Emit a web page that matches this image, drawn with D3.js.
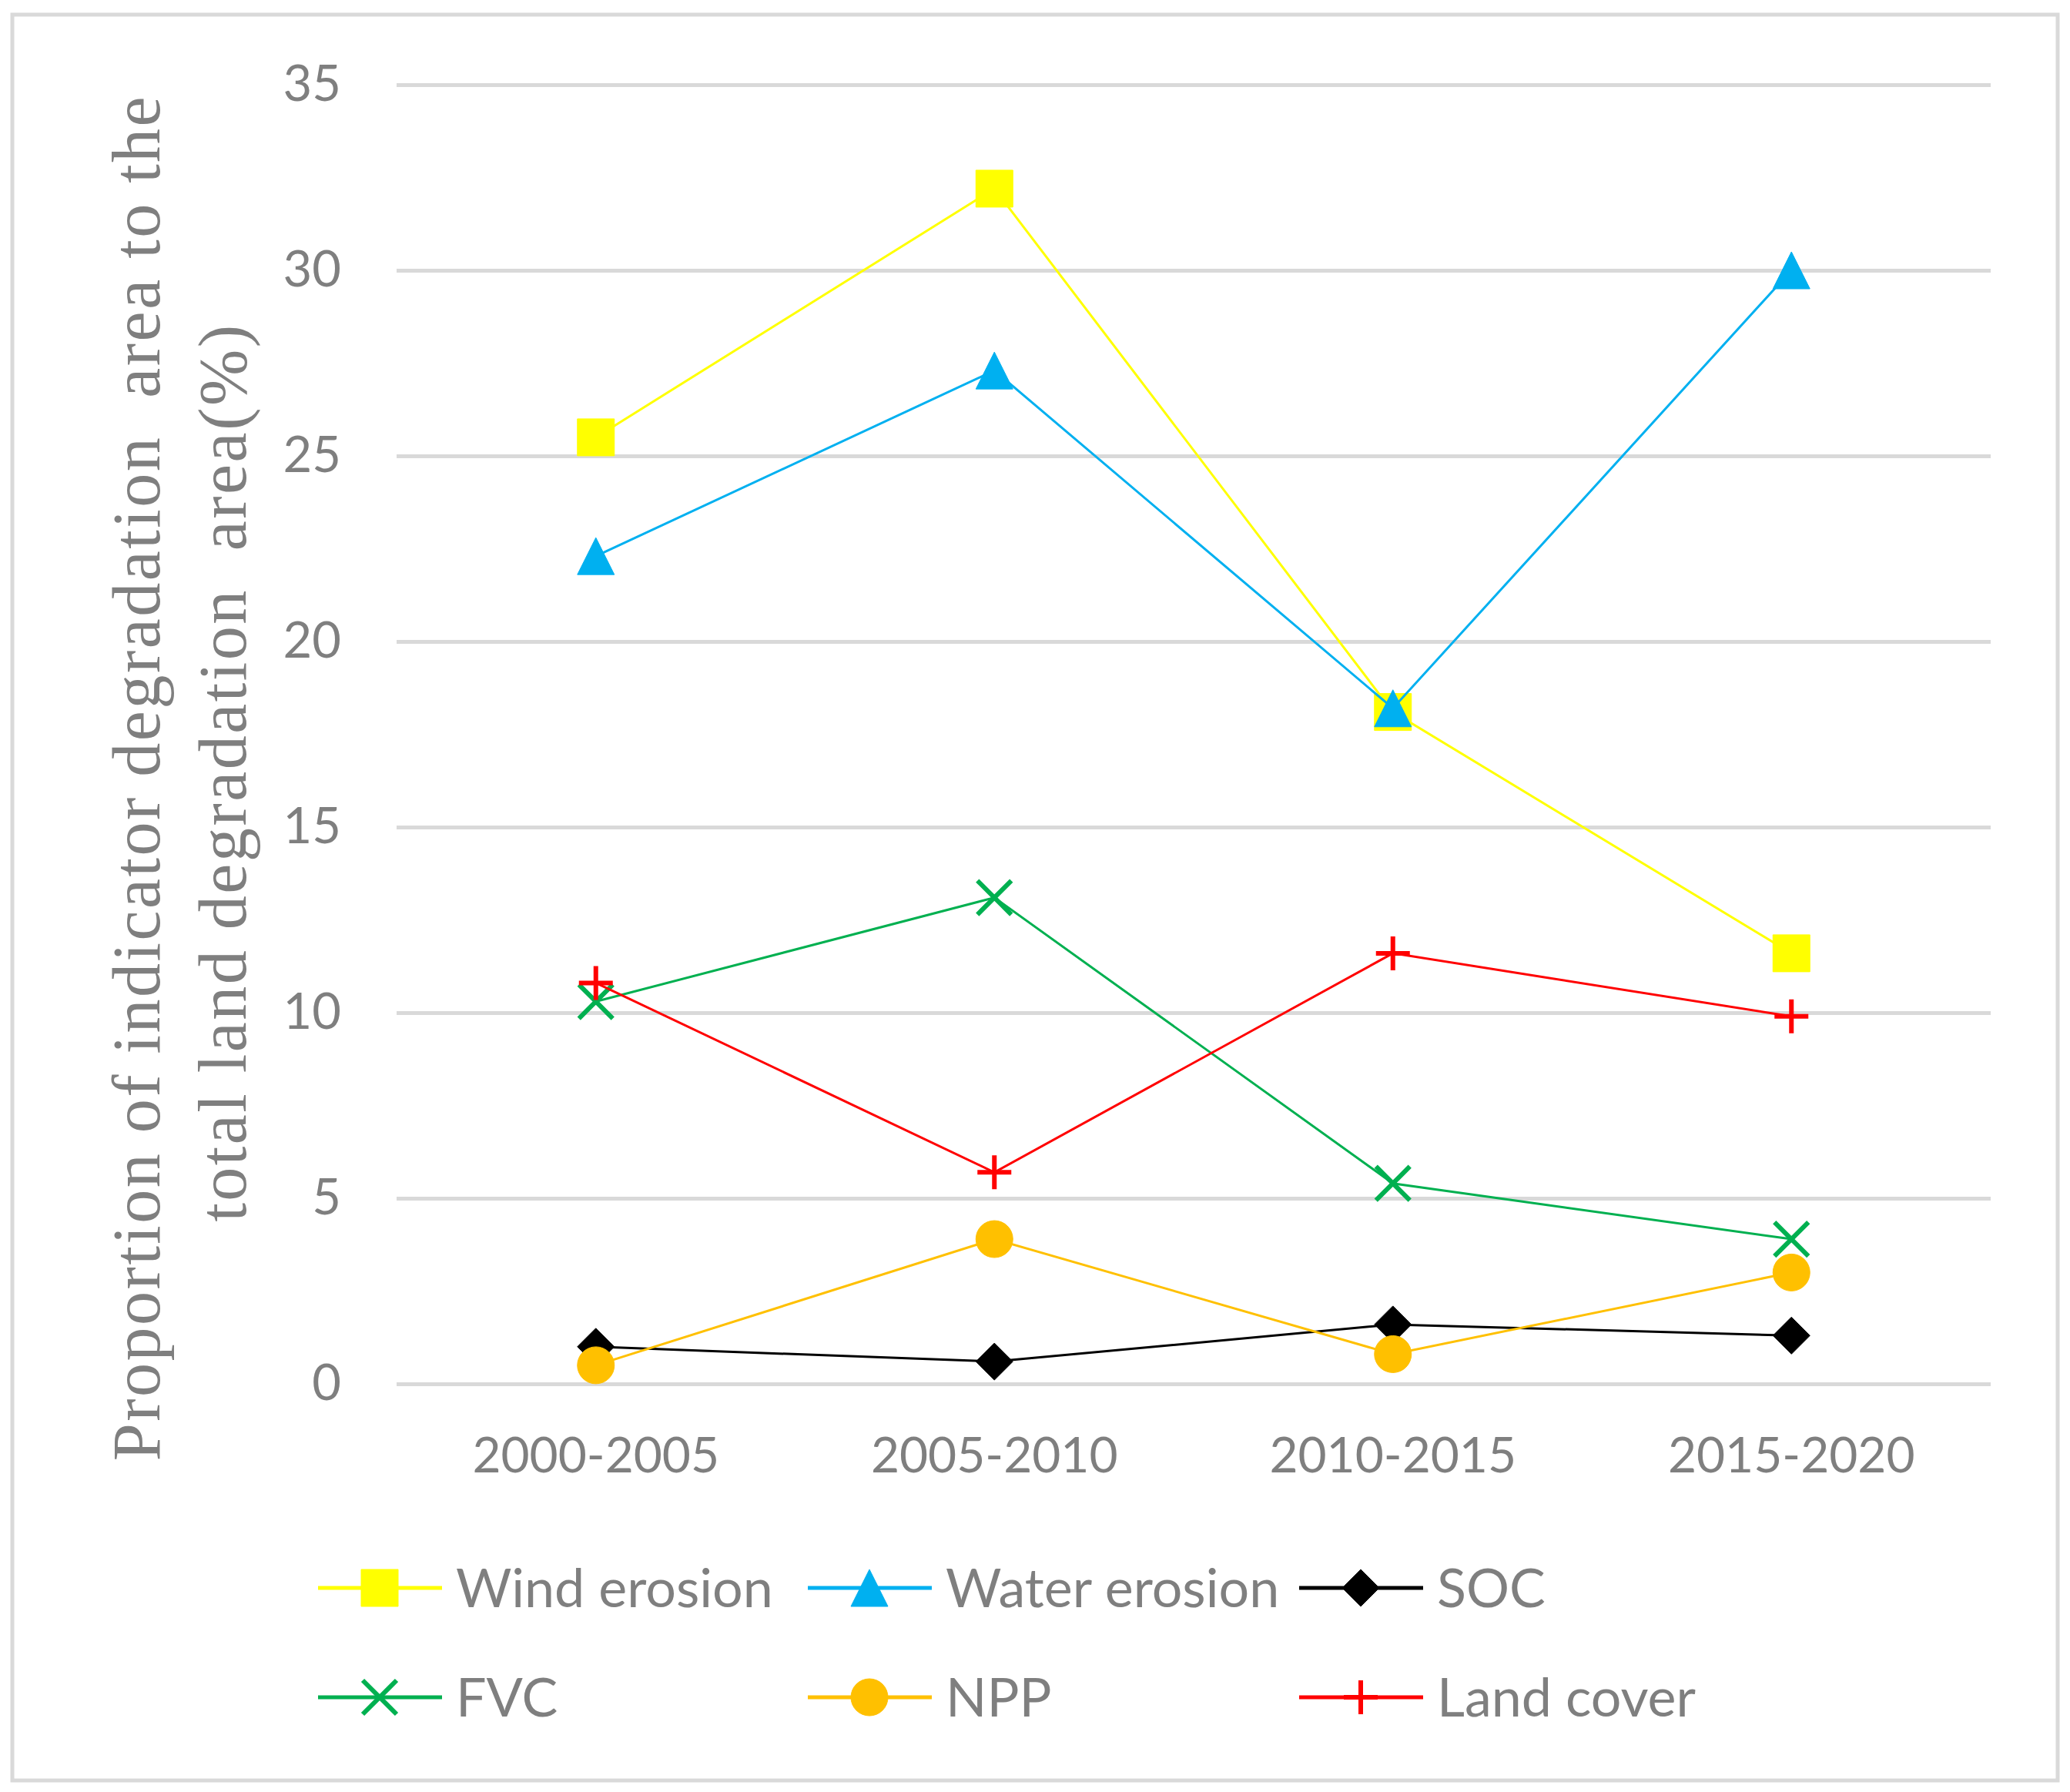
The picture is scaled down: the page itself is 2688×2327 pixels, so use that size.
<!DOCTYPE html>
<html>
<head>
<meta charset="utf-8">
<script src="https://cdn.jsdelivr.net/npm/d3@7"></script>
<style>
  body { margin: 0; background: #fff; }
  .tick text { fill: #7f7f7f; font-family: Lato, "Open Sans", sans-serif; }
</style>
</head>
<body>
<div id="chart"></div>
<script>
const svgWidth = 2688;
const svgHeight = 2327;
const margin = {top: 110, right: 103, bottom: 530, left: 515};
const width = svgWidth - margin.left - margin.right;
const height = svgHeight - margin.top - margin.bottom;

// periods on the x axis
const periods = ["2000-2005", "2005-2010", "2010-2015", "2015-2020"];
const yTicks = [0, 5, 10, 15, 20, 25, 30, 35];

// values (%)
const windErosion  = [25.5, 32.2, 18.1, 11.6];
const waterErosion = [22.3, 27.3, 18.2, 30.0];
const soc          = [1.0, 0.6, 1.6, 1.3];
const fvc          = [10.3, 13.1, 5.4, 3.9];
const npp          = [0.5, 3.9, 0.8, 3.0];
const landCover    = [10.8, 5.7, 11.6, 9.9];

const seriesNames  = ["Wind erosion", "Water erosion", "SOC", "FVC", "NPP", "Land cover"];
const seriesColors = ["#ffff00", "#00b0f0", "#000000", "#00b050", "#ffc000", "#ff0000"];
const seriesMarks  = ["square", "triangle", "diamond", "cross", "circle", "plus"];
const seriesValues = [windErosion, waterErosion, soc, fvc, npp, landCover];

document.addEventListener("DOMContentLoaded", function(event){
    drawChart();
});

// marker path centred on 0,0
function markerPath(type){
    const r = 24;
    if (type == "square") return "M"+(-r)+","+(-r)+"H"+r+"V"+r+"H"+(-r)+"Z";
    if (type == "triangle") return "M0,"+(-r)+"L"+r+","+r+"H"+(-r)+"Z";
    if (type == "diamond") return "M0,"+(-r)+"L"+r+",0L0,"+r+"L"+(-r)+",0Z";
    if (type == "circle") return d3.symbol().type(d3.symbolCircle).size(Math.PI*r*r)();
    const c = 22;
    if (type == "cross") return "M"+(-c)+","+(-c)+"L"+c+","+c+"M"+(-c)+","+c+"L"+c+","+(-c);
    return "M0,"+(-c)+"V"+c+"M"+(-c)+",0H"+c; // plus
}

function drawMarker(g, type, color){
    const filled = type != "cross" && type != "plus";
    g.append("path")
        .attr("d", markerPath(type))
        .attr("fill", filled ? color : "none")
        .attr("stroke", color)
        .attr("stroke-width", filled ? 1 : 6);
}

function drawChart(){

    const root = d3.select("#chart")
                    .append("svg")
                    .attr("width", svgWidth)
                    .attr("height", svgHeight);

    // outer frame
    root.append("rect")
        .attr("x", 16).attr("y", 19)
        .attr("width", 2656).attr("height", 2293)
        .attr("fill", "#fff")
        .attr("stroke", "#d9d9d9")
        .attr("stroke-width", 5);

    const svg = root.append("g")
                    .attr("transform", "translate("+margin.left+","+margin.top+")");

    const xscale = d3.scaleBand()
                        .domain(periods)
                        .range([0, width]);

    const yscale = d3.scaleLinear()
                        .domain([0, 35])
                        .range([height, 0]);

    // gridlines + y labels
    const yaxis = d3.axisLeft(yscale)
                    .tickValues(yTicks)
                    .tickSize(-width)
                    .tickPadding(72);

    const yg = svg.append("g").attr("class", "axis").call(yaxis);
    yg.select(".domain").remove();
    yg.selectAll(".tick line").attr("stroke", "#d9d9d9").attr("stroke-width", 5);
    yg.selectAll(".tick text").attr("font-size", 65);

    const xaxis = d3.axisBottom(xscale).tickSize(0).tickPadding(70);
    const xg = svg.append("g")
                    .attr("class", "axis")
                    .attr("transform", "translate(0,"+height+")")
                    .call(xaxis);
    xg.select(".domain").remove();
    xg.selectAll(".tick text").attr("font-size", 64);

    // y axis title, two lines
    const ytitle = [
        {text: "Proportion of indicator degradation\u00a0 area to the", x: 207, y: 1010},
        {text: "total land degradation\u00a0 area(%)", x: 319, y: 1003}
    ];
    ytitle.forEach(function(t){
        root.append("text")
            .attr("transform", "translate("+t.x+","+t.y+")rotate(-90)")
            .attr("text-anchor", "middle")
            .attr("font-family", "'Liberation Serif', 'DejaVu Serif', serif")
            .attr("font-size", 88)
            .attr("letter-spacing", 2.5)
            .attr("fill", "#7f7f7f")
            .text(t.text);
    });

    const line = d3.line()
                    .x(function(d, i){ return xscale(periods[i]) + xscale.bandwidth()/2; })
                    .y(function(d){ return yscale(d); });

    seriesValues.forEach(function(values, s){
        svg.append("path")
            .datum(values)
            .attr("fill", "none")
            .attr("stroke", seriesColors[s])
            .attr("stroke-width", 3)
            .attr("d", line);

        values.forEach(function(v, i){
            const g = svg.append("g")
                .attr("transform", "translate("+(xscale(periods[i]) + xscale.bandwidth()/2)+","+yscale(v)+")");
            drawMarker(g, seriesMarks[s], seriesColors[s]);
        });
    });

    // legend, 3 columns x 2 rows
    const legendX = [413, 1049, 1687];
    const legendY = [2062, 2204];
    seriesNames.forEach(function(name, s){
        const lx = legendX[s % 3];
        const ly = legendY[Math.floor(s / 3)];
        const lg = root.append("g").attr("transform", "translate("+lx+","+ly+")");
        lg.append("line")
            .attr("x1", 0).attr("x2", 161)
            .attr("stroke", seriesColors[s])
            .attr("stroke-width", 5);
        drawMarker(lg.append("g").attr("transform", "translate(80,0)"), seriesMarks[s], seriesColors[s]);
        lg.append("text")
            .attr("x", 179)
            .attr("dy", "0.35em")
            .attr("font-family", "Lato, 'Open Sans', sans-serif")
            .attr("font-size", 70)
            .attr("fill", "#7f7f7f")
            .text(name);
    });
}
</script>
</body>
</html>
